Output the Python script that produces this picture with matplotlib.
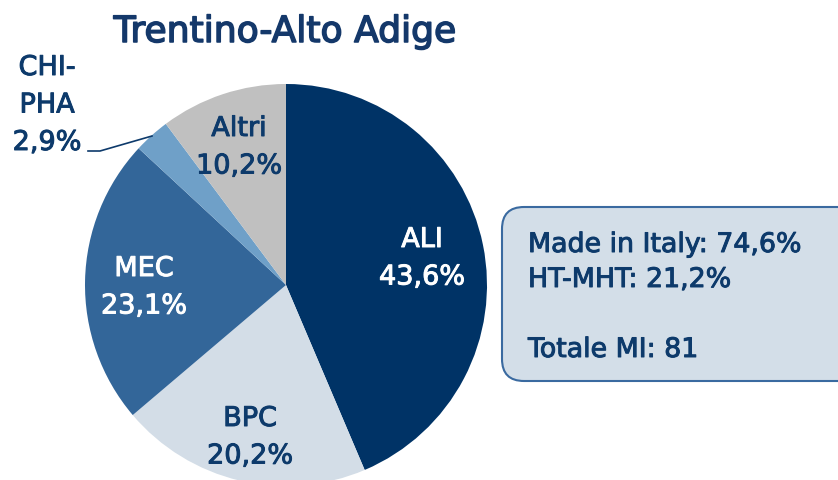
import matplotlib.pyplot as plt
import matplotlib.patheffects as pe
from matplotlib.patches import FancyBboxPatch

# Data
sectors = ["ALI", "BPC", "MEC", "CHI-\nPHA", "Altri"]
shares = [43.6, 20.2, 23.1, 2.9, 10.2]
colors = ["#003366", "#d3dde7", "#336699", "#6fa0c8", "#c0c0c0"]
label_colors = ["white", "#0d3a6b", "white", "#0d3a6b", "#0d3a6b"]
summary_lines = ["Made in Italy: 74,6%", "HT-MHT: 21,2%", "Totale MI: 81"]
title = "Trentino-Alto Adige"

plt.rcParams['font.family'] = ['DejaVu Sans']


def heavier(color, w):
    # thicken the regular weight a little, the original font sits between regular and bold
    return [pe.withStroke(linewidth=w, foreground=color)]


W, H = 838, 481
fig = plt.figure(figsize=(W / 100, H / 100), dpi=100)
ax = fig.add_axes([0, 0, 1, 1])

cx, cy, r = 286, H - 286, 201
ax.pie(shares, colors=colors, startangle=90, counterclock=False,
       center=(cx, cy), radius=r, frame=True, wedgeprops=dict(linewidth=0))
ax.set_xlim(0, W)
ax.set_ylim(0, H)
ax.set_aspect('equal')
ax.axis('off')

# slice labels: x centre and baseline of first line (pixels from top)
label_pos = [(422, 248), (250, 427), (144, 277), (47, 76), (239, 137)]
for name, val, (x, y), c in zip(sectors, shares, label_pos, label_colors):
    lines = name.split("\n") + [f"{val:.1f}%".replace(".", ",")]
    for i, line in enumerate(lines):
        ax.text(x, H - y - 37.5 * i, line, ha='center', va='baseline',
                color=c, fontsize=19.5, path_effects=heavier(c, 0.7))

# leader line for CHI-PHA
ax.plot([88, 100, 152], [H - 152, H - 152, H - 137], color="#0d3a6b", lw=1.2)

ax.text(285, H - 43, title, ha='center', va='baseline', color="#14386a",
        fontsize=26, path_effects=heavier("#14386a", 1.1))

box = FancyBboxPatch((502, H - 382), 360, 174,
                     boxstyle="round,pad=0,rounding_size=22",
                     facecolor="#d3dee8", edgecolor="#3a6aa0", lw=1.5)
ax.add_patch(box)
for line, y in zip(summary_lines, [253, 288, 358]):
    ax.text(528, H - y, line, ha='left', va='baseline', color="#0d3a6b",
            fontsize=19.3, path_effects=heavier("#0d3a6b", 0.7))

fig.savefig("out.png", dpi=100)
